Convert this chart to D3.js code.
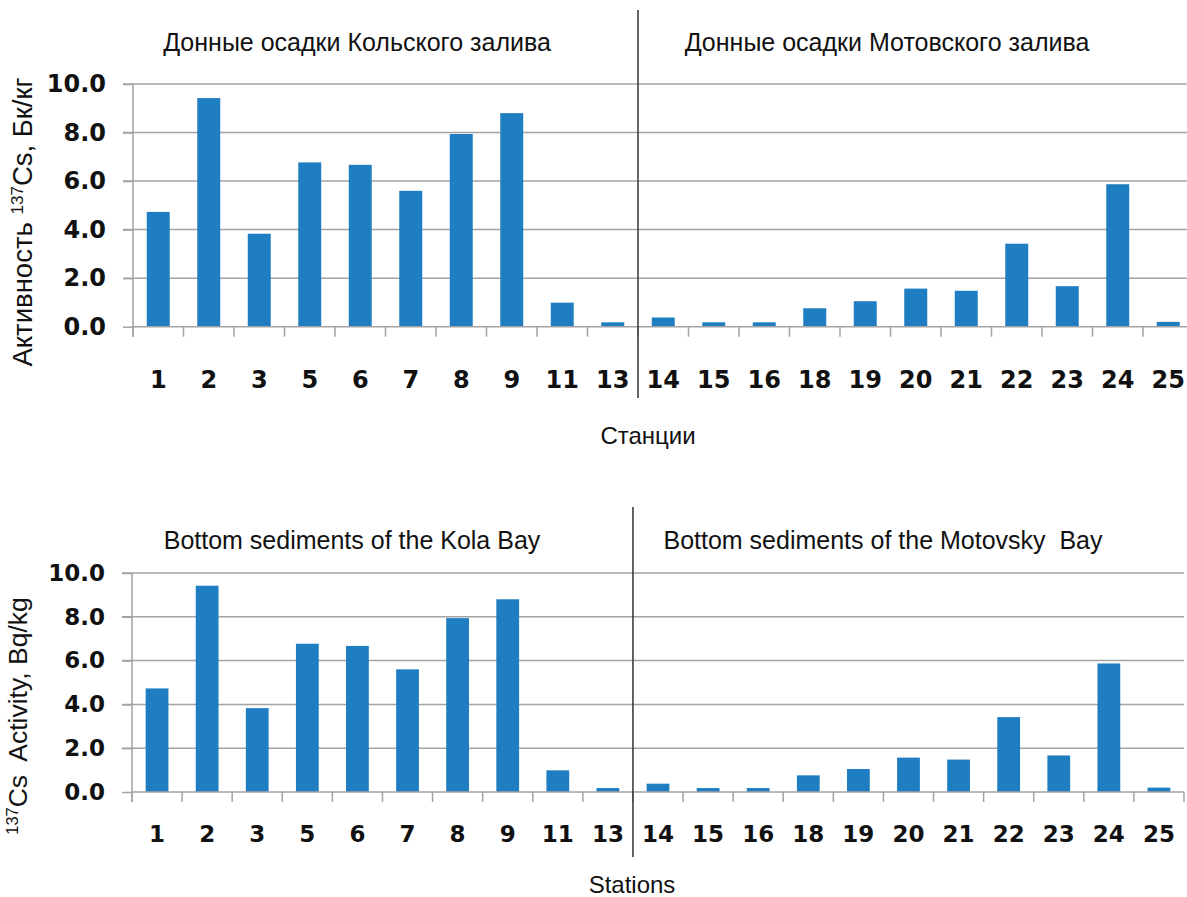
<!DOCTYPE html>
<html><head><meta charset="utf-8">
<script src="https://cdn.jsdelivr.net/npm/d3@7"></script>
<style>body{margin:0;background:#fff}svg{display:block}text{white-space:pre}</style>
</head><body><svg id="c" width="1187" height="897"></svg>
<script>
const stations = ["1","2","3","5","6","7","8","9","11","13","14","15","16","18","19","20","21","22","23","24","25"];
const activity = [4.73,9.42,3.83,6.77,6.67,5.6,7.94,8.8,0.99,0.18,0.38,0.18,0.18,0.76,1.05,1.57,1.48,3.42,1.67,5.87,0.2];
const yTicks = [0,2,4,6,8,10];
const kolaCount = 10;
const titlesRu = ["Донные осадки Кольского залива","Донные осадки Мотовского залива"];
const titlesEn = ["Bottom sediments of the Kola Bay","Bottom sediments of the Motovsky  Bay"];
const xTitleRu = "Станции";
const xTitleEn = "Stations";

const svg = d3.select("#c");
svg.append("rect").attr("width",1187).attr("height",897).attr("fill","#fff");

const panels = [
  {x0:133,x1:1193.5,y0:326.7,y1:84,titles:titlesRu,titleX:[357,887],titleY:51,divTop:10,divBot:398,
   tickFont:24,tickBase:388,xTitle:xTitleRu,xTitleX:648,xTitleY:444,
   yTitle:[["Активность ",0],["137",1],["Cs, Бк/кг",0]],yTitleX:32,yTitleC:222,yFont:27.5},
  {x0:132,x1:1184,y0:792,y1:573,titles:titlesEn,titleX:[352,883],titleY:549,divTop:507,divBot:857,
   tickFont:23,tickBase:842,xTitle:xTitleEn,xTitleX:632,xTitleY:893,
   yTitle:[["137",1],["Cs  Activity, Bq/kg",0]],yTitleX:27,yTitleC:716,yFont:26.5}
];

panels.forEach(p=>{
  const g = svg.append("g");
  const x = d3.scaleBand().domain(stations).range([p.x0,p.x1]).padding(0);
  const y = d3.scaleLinear().domain([0,10]).range([p.y0,p.y1]);
  const bw = x.bandwidth();
  // gridlines
  g.selectAll("line.grid").data(yTicks.filter(d=>d>0)).join("line")
    .attr("x1",p.x0-10).attr("x2",p.x1).attr("y1",d=>y(d)).attr("y2",d=>y(d))
    .attr("stroke","#a3a3a3").attr("stroke-width",1.5);
  // y axis
  const yAxis = d3.axisLeft(y).tickValues(yTicks).tickFormat(d3.format(".1f")).tickSize(10).tickPadding(17);
  const ya = g.append("g").attr("transform",`translate(${p.x0},0)`).call(yAxis);
  ya.select(".domain").remove();
  ya.selectAll(".tick line").attr("stroke","#a3a3a3").attr("stroke-width",1.5);
  ya.selectAll(".tick text").attr("font-family","DejaVu Sans").attr("font-weight","bold")
    .attr("font-size",p.tickFont).attr("fill","#111");
  g.append("line").attr("x1",p.x0).attr("x2",p.x0).attr("y1",p.y1).attr("y2",p.y0+10)
    .attr("stroke","#a3a3a3").attr("stroke-width",1.5);
  // bars
  g.selectAll("rect.bar").data(stations).join("rect")
    .attr("x",(d)=>x(d)+bw*0.2725).attr("width",bw*0.455)
    .attr("y",(d,i)=>y(activity[i])).attr("height",(d,i)=>p.y0-y(activity[i]))
    .attr("fill","#1f7ec2");
  // x axis line and ticks
  g.append("line").attr("x1",p.x0).attr("x2",p.x1).attr("y1",p.y0).attr("y2",p.y0)
    .attr("stroke","#a3a3a3").attr("stroke-width",1.5);
  const bounds = stations.map(d=>x(d)).concat([p.x1]);
  g.selectAll("line.xt").data(bounds).join("line")
    .attr("x1",d=>d).attr("x2",d=>d).attr("y1",p.y0).attr("y2",p.y0+10)
    .attr("stroke","#a3a3a3").attr("stroke-width",1.5);
  g.selectAll("text.xl").data(stations).join("text")
    .attr("x",d=>x(d)+bw/2).attr("y",p.tickBase).attr("text-anchor","middle")
    .attr("font-family","DejaVu Sans").attr("font-weight","bold").attr("font-size",p.tickFont)
    .attr("fill","#111").text(d=>d);
  // divider
  const dx = x(stations[kolaCount]);
  g.append("line").attr("x1",dx).attr("x2",dx).attr("y1",p.divTop).attr("y2",p.divBot)
    .attr("stroke","#333").attr("stroke-width",1.5);
  // titles
  p.titles.forEach((t,i)=>{
    g.append("text").attr("x",p.titleX[i]).attr("y",p.titleY).attr("text-anchor","middle")
      .attr("font-family","Liberation Sans").attr("font-size",25).attr("fill","#111").text(t);
  });
  g.append("text").attr("x",p.xTitleX).attr("y",p.xTitleY).attr("text-anchor","middle")
    .attr("font-family","Liberation Sans").attr("font-size",24).attr("fill","#111").text(p.xTitle);
  const yt = g.append("text").attr("transform",`translate(${p.yTitleX},${p.yTitleC}) rotate(-90)`)
    .attr("text-anchor","middle").attr("font-family","Liberation Sans").attr("font-size",p.yFont).attr("fill","#111");
  p.yTitle.forEach(([s,sup])=>{
    yt.append("tspan").attr("font-size",sup?p.yFont*0.62:p.yFont).attr("baseline-shift",sup?"super":null).text(s);
  });
});
</script>
</body></html>
